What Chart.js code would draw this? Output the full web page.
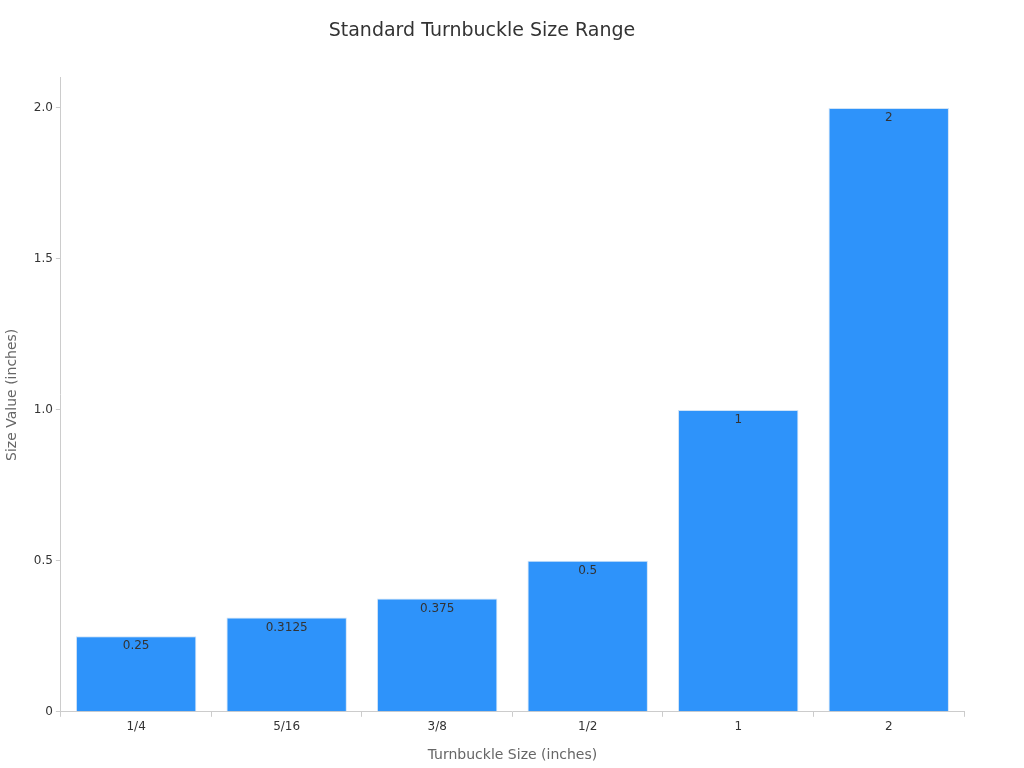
<!DOCTYPE html>
<html><head><meta charset="utf-8">
<script src="https://cdn.jsdelivr.net/npm/chart.js@4"></script>
<style>html,body{margin:0;background:#fff}#w{width:1024px;height:768px}</style>
</head><body><div id="w"><canvas id="c"></canvas></div>
<script>
const categories = ["1/4","5/16","3/8","1/2","1","2"];
const values = [0.25,0.3125,0.375,0.5,1,2];
const labelPlugin = {id:'lbl',afterDatasetsDraw(chart){
  const ctx=chart.ctx; const meta=chart.getDatasetMeta(0);
  ctx.save(); ctx.font='12px "DejaVu Sans"'; ctx.fillStyle='#333'; ctx.textAlign='center'; ctx.textBaseline='top';
  meta.data.forEach((b,i)=>ctx.fillText(String(values[i]),b.x,b.y+4));
  ctx.restore();}};
Chart.defaults.font.family='"DejaVu Sans", sans-serif';
new Chart(document.getElementById('c'),{type:'bar',
 data:{labels:categories,datasets:[{data:values,backgroundColor:'#2e93fa',borderColor:'#cfe3f7',borderWidth:1,barPercentage:0.8,categoryPercentage:1}]},
 options:{responsive:true,maintainAspectRatio:false,animation:false,
  layout:{padding:{left:0,right:60,top:10,bottom:0}},
  plugins:{legend:{display:false},tooltip:{enabled:false},
   title:{display:true,text:'Standard Turnbuckle Size Range',color:'#333',font:{size:19,weight:'normal'},padding:{top:10,bottom:35}}},
  scales:{
   x:{grid:{display:true,drawOnChartArea:false,color:'#ccc',tickLength:5},border:{color:'#ccc'},ticks:{color:'#333',font:{size:12}},
      title:{display:true,text:'Turnbuckle Size (inches)',color:'#666',font:{size:14},padding:{top:10}}},
   y:{min:0,max:2.1,grid:{display:true,drawOnChartArea:false,color:'#ccc',tickLength:5},border:{color:'#ccc'},
      ticks:{stepSize:0.5,color:'#333',font:{size:12}},
      afterBuildTicks(s){s.ticks=s.ticks.filter(t=>t.value<=2.0001);},
      title:{display:true,text:'Size Value (inches)',color:'#666',font:{size:14},padding:{bottom:10}}}
  }}, plugins:[labelPlugin]});
</script></body></html>
